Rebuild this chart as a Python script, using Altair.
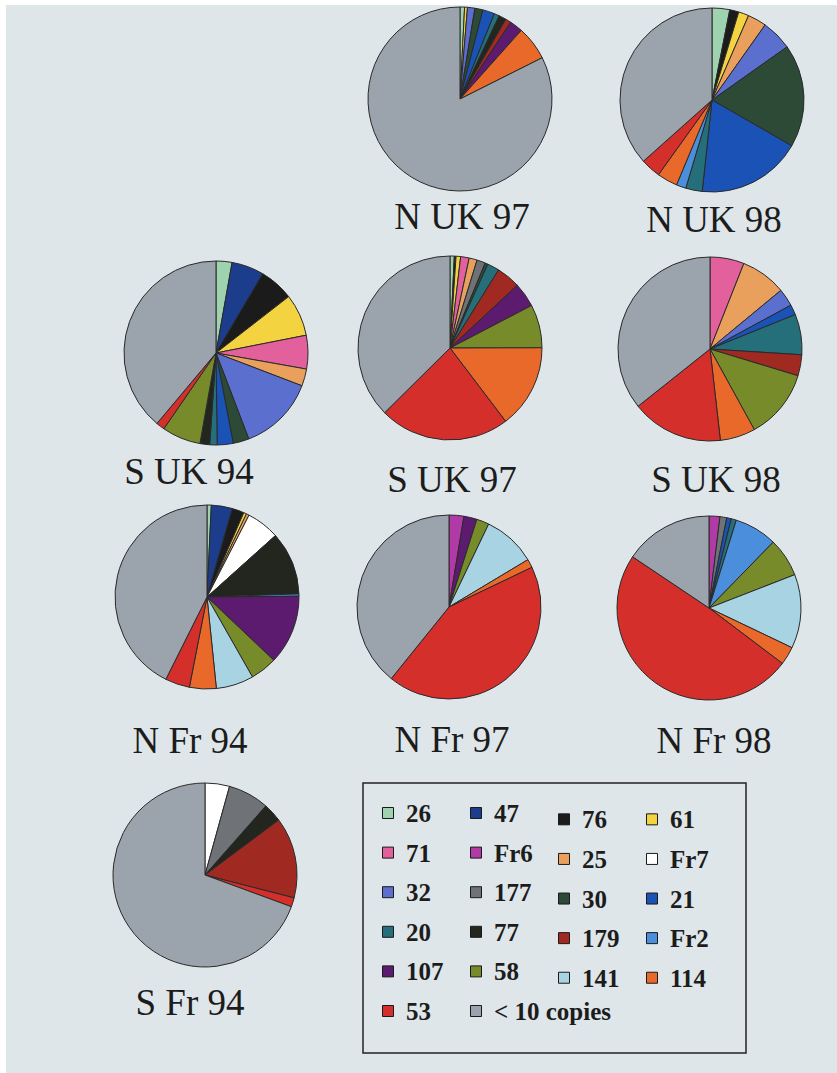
import math
import altair as alt
import pandas as pd

# ---------------- data ----------------
alleles = ["26", "47", "76", "61", "71", "Fr6", "25", "Fr7", "32", "177", "30",
           "21", "20", "77", "179", "Fr2", "107", "58", "141", "114", "53",
           "< 10 copies"]
colors = ["#9fd2ae", "#1c3d8c", "#1b1b1b", "#f3d440", "#e2609c", "#b23aa6",
          "#e9a05c", "#ffffff", "#5b6fcf", "#6f7377", "#2d4a36", "#1a52b5",
          "#256f7b", "#22261f", "#a02a22", "#4b8fdc", "#5c1b6e", "#788b2b",
          "#a8d3e3", "#e8692a", "#d52f2b", "#9ba3ac"]

samples = ["N UK 97", "N UK 98", "S UK 94", "S UK 97", "S UK 98",
           "N Fr 94", "N Fr 97", "N Fr 98", "S Fr 94"]

# percentages, aligned with `alleles`
n_uk_97 = [0.8, 0, 0, 0.5, 0, 0, 0, 0, 1.3, 0, 1.4, 2.1, 0.9, 1.3, 1.0, 0, 2.3, 0, 0, 6.0, 0, 82.4]
n_uk_98 = [3.1, 0, 1.6, 1.8, 0, 0, 3.3, 0, 5.4, 0, 18.1, 18.4, 2.9, 0, 0, 1.7, 0, 0, 0, 3.6, 3.5, 36.6]
s_uk_94 = [2.8, 5.7, 6.0, 7.4, 5.9, 0, 3.0, 0, 13.4, 0, 2.8, 2.8, 1.3, 1.7, 0, 0, 0, 6.8, 0, 0, 1.5, 38.9]
s_uk_97 = [0.75, 0, 0.3, 0.8, 1.5, 0, 1.4, 0, 0, 1.5, 0.5, 0, 2.1, 0, 4.2, 0, 4.3, 7.6, 0, 14.7, 22.9, 37.4]
s_uk_98 = [0, 0, 0, 0, 6.0, 0, 8.0, 0, 3.1, 0, 0, 1.8, 7.1, 0, 3.7, 0, 0, 12.3, 0, 6.2, 16.1, 35.7]
n_fr_94 = [0.75, 3.7, 2.1, 0.5, 0, 0, 0.5, 5.8, 0, 0, 0, 0, 0, 11.1, 0, 0.4, 12.2, 4.7, 6.6, 4.7, 4.3, 42.6]
n_fr_97 = [0, 0, 0, 0, 0, 2.6, 0, 0, 0, 0, 0, 0, 0, 0, 0, 0, 2.3, 2.2, 9.3, 1.5, 42.9, 39.2]
n_fr_98 = [0, 0, 0, 0, 0, 1.9, 0, 0, 0, 1.2, 0, 0.8, 0.9, 0, 0, 7.5, 0, 6.8, 13.0, 3.2, 49.1, 15.6]
s_fr_94 = [0, 0, 0, 0, 0, 0, 0, 4.3, 0, 7.2, 0, 0, 0, 3.3, 14.2, 0, 0, 0, 0, 0, 1.6, 69.4]

series = [n_uk_97, n_uk_98, s_uk_94, s_uk_97, s_uk_98, n_fr_94, n_fr_97, n_fr_98, s_fr_94]

rows = []
for s, vals in zip(samples, series):
    for i, (a, v) in enumerate(zip(alleles, vals)):
        if v > 0:
            rows.append({"sample": s, "allele": a, "idx": i, "pct": v})
df = pd.DataFrame(rows)
legend_df = pd.DataFrame({"allele": alleles, "idx": list(range(len(alleles)))})
label_df = pd.DataFrame({"sample": samples})

# ---------------- layout (page pixels) ----------------
PAD_L, PAD_T = 6, 5
W, H = 837 - PAD_L, 1073 - PAD_T
R = 92
# pie centre x, y ; label centre x, baseline y
layout = {
    "N UK 97": (460, 99, 462, 229),
    "N UK 98": (712, 100, 714, 232),
    "S UK 94": (216, 353, 189, 484),
    "S UK 97": (450, 348, 452, 492),
    "S UK 98": (710, 349, 716, 492),
    "N Fr 94": (207, 597, 190, 753),
    "N Fr 97": (449, 607, 452, 752),
    "N Fr 98": (709, 608, 714, 753),
    "S Fr 94": (205, 875, 190, 1015),
}

SERIF = "Liberation Serif, Times New Roman, Times, DejaVu Serif, serif"
INK = "#1c1c1c"
color_scale = alt.Scale(domain=alleles, range=colors)

layers = []
for s in samples:
    cx, cy, lx, ly = layout[s]
    pie = (
        alt.Chart(df)
        .transform_filter(alt.datum.sample == s)
        .transform_joinaggregate(total="sum(pct)")
        .transform_calculate(frac="datum.pct / datum.total")
        .mark_arc(radius=R, stroke="#2a2a2a", strokeWidth=1)
        .encode(
            theta=alt.Theta("frac:Q", stack=True,
                            scale=alt.Scale(domain=[0, 1], range=[0, 2 * math.pi])),
            color=alt.Color("allele:N", scale=color_scale, legend=None),
            order=alt.Order("idx:Q"),
            x=alt.value(cx - PAD_L),
            y=alt.value(cy - PAD_T),
        )
    )
    label = (
        alt.Chart(label_df)
        .transform_filter(alt.datum.sample == s)
        .mark_text(font=SERIF, fontSize=37, color=INK, align="center",
                   baseline="alphabetic")
        .encode(text="sample:N", x=alt.value(lx - PAD_L), y=alt.value(ly - PAD_T))
    )
    layers += [pie, label]

# ---------------- legend box ----------------
box = (
    alt.Chart(pd.DataFrame({"k": [0]}))
    .mark_rect(fillOpacity=0, stroke="#222222", strokeWidth=1.5)
    .encode(x=alt.value(363 - PAD_L), x2=alt.value(746 - PAD_L),
            y=alt.value(783 - PAD_T), y2=alt.value(1053 - PAD_T))
)

leg_base = alt.Chart(legend_df).transform_calculate(
    lcol="datum.idx % 4",
    lrow="floor(datum.idx / 4)",
).transform_calculate(
    ly="datum.lrow + (datum.lcol >= 2 ? 0.16 : 0)"
)
lx_enc = alt.X("lcol:Q", axis=None,
               scale=alt.Scale(domain=[0, 3], range=[388 - PAD_L, 652 - PAD_L],
                               nice=False, zero=False))
ly_enc = alt.Y("ly:Q", axis=None,
               scale=alt.Scale(domain=[0, 5], range=[813 - PAD_T, 1011 - PAD_T],
                               nice=False, zero=False))
swatches = leg_base.mark_square(size=121, opacity=1, stroke="#1a1a1a",
                                strokeWidth=1).encode(
    x=lx_enc, y=ly_enc,
    color=alt.Color("allele:N", scale=color_scale, legend=None))
leg_text = leg_base.mark_text(align="left", baseline="middle", dx=18, dy=1,
                              font=SERIF, fontSize=25, fontWeight="bold",
                              color=INK).encode(x=lx_enc, y=ly_enc, text="allele:N")

chart = (
    alt.layer(*layers, box, swatches, leg_text)
    .properties(width=W, height=H,
                autosize=alt.AutoSizeParams(type="none"),
                padding={"left": PAD_L, "top": PAD_T, "right": 0, "bottom": 0},
                background="white")
    .configure_view(stroke=None, fill="#dfe6e9")
)

chart.save("out.html", embed_options={"renderer": "svg", "actions": False})
